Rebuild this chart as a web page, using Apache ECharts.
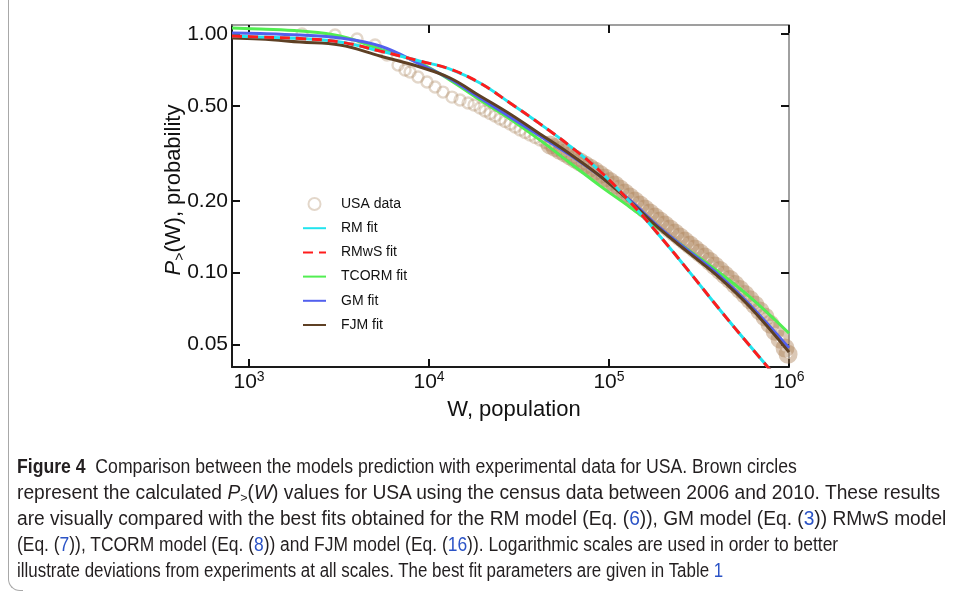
<!DOCTYPE html>
<html>
<head>
<meta charset="utf-8">
<script src="https://cdn.jsdelivr.net/npm/echarts@6/dist/echarts.min.js"></script>
<style>
  html, body { margin: 0; padding: 0; background: #fff; }
  #chart { position: absolute; left: 0; top: 0; width: 955px; height: 596px; }
  .frame { position: absolute; left: 8px; top: -4px; width: 14px; height: 594px;
           border-left: 1.5px solid #a8a8a8; border-bottom: 1.5px solid #a8a8a8;
           border-bottom-left-radius: 12px; }
  .cap { position: absolute; left: 17px; top: 453px; color: #231f20;
         font: 20px 'Liberation Sans', Arial, sans-serif; line-height: 26px; }
  .cap div { white-space: nowrap; width: max-content; transform-origin: 0 50%; }
  .lnk { color: #2b53c6; }
  sub { font-size: 13px; vertical-align: -3px; line-height: 0; }
</style>
</head>
<body>
<div id="chart"></div>
<div class="frame"></div>
<div class="cap">
  <div data-w="780"><b>Figure 4</b>&nbsp; Comparison between the models prediction with experimental data for USA. Brown circles</div>
  <div data-w="923">represent the calculated <i>P</i><sub>&gt;</sub>(<i>W</i>) values for USA using the census data between 2006 and 2010. These results</div>
  <div data-w="929">are visually compared with the best fits obtained for the RM model (Eq. (<span class="lnk">6</span>)), GM model (Eq. (<span class="lnk">3</span>)) RMwS model</div>
  <div data-w="821">(Eq. (<span class="lnk">7</span>)), TCORM model (Eq. (<span class="lnk">8</span>)) and FJM model (Eq. (<span class="lnk">16</span>)). Logarithmic scales are used in order to better</div>
  <div data-w="706">illustrate deviations from experiments at all scales. The best fit parameters are given in Table <span class="lnk">1</span></div>
</div>
<script>
// axis ranges and ticks (log scales, drawn on log10 values)
const xRange = [804, 1e6];
const yRange = [0.0402, 1.091];
const xTicks = [1e3, 1e4, 1e5, 1e6];
const yTicks = [0.05, 0.10, 0.20, 0.50, 1.00];

// USA census data, P>(W)
const usaW = [1970, 3005, 3981, 5012, 5843, 6725, 7356, 7845, 8688, 9747, 10800, 11960, 13420, 14870, 16470, 17780,
  19200, 20470, 21820, 23270, 24810, 26450, 28200, 30060, 32050, 34170, 36430, 38840, 41410, 44150, 47060, 50170,
  53430, 56960, 60730, 64740, 69020, 73580, 78420, 83620, 89130, 95020, 101300, 108000, 115100, 122700, 130800,
  139500, 148700, 158500, 169000, 180200, 192100, 204800, 218300, 232700, 248100, 264500, 281800, 300500, 320300,
  341500, 364100, 388100, 413800, 441100, 470300, 501400, 534500, 569800, 607500, 647600, 690400, 736000, 784700,
  836600, 891900, 950800, 988000];
const usaP = [1.000, 0.990, 0.953, 0.899, 0.817, 0.741, 0.706, 0.693, 0.660, 0.629, 0.600, 0.571, 0.544, 0.529, 0.514, 0.504,
  0.4895, 0.4756, 0.4642, 0.4531, 0.4401, 0.4296, 0.4194, 0.4074, 0.3958, 0.3864, 0.3772, 0.3682, 0.3594, 0.3508, 0.3424, 0.3342,
  0.3247, 0.3170, 0.3079, 0.2991, 0.2906, 0.2823, 0.2742, 0.2664, 0.2576, 0.2490, 0.2407, 0.2327, 0.2239, 0.2154, 0.2073,
  0.1994, 0.1919, 0.1846, 0.1776, 0.1709, 0.1644, 0.1582, 0.1522, 0.1464, 0.1409, 0.1355, 0.1304, 0.1255, 0.1207,
  0.1161, 0.1112, 0.1065, 0.1020, 0.0976, 0.0935, 0.0891, 0.0849, 0.0809, 0.0770, 0.0731, 0.0690, 0.0651, 0.0608,
  0.0568, 0.0526, 0.0483, 0.0455];

// model fits
const fitW = [804, 1150, 1920, 3200, 5340, 8910, 13090, 19200, 28180, 41370, 60730, 89130, 130800, 192000, 281800, 413700, 607300, 1000000];
const rmP    = [0.981, 0.971, 0.957, 0.926, 0.849, 0.770, 0.713, 0.623, 0.514, 0.420, 0.339, 0.266, 0.198, 0.142, 0.100, 0.0697, 0.0492, 0.0316];
const rmwsP  = [0.981, 0.971, 0.957, 0.926, 0.849, 0.770, 0.713, 0.623, 0.514, 0.420, 0.339, 0.266, 0.198, 0.142, 0.100, 0.0697, 0.0492, 0.0316];
const tcormP = [1.060, 1.049, 1.029, 0.981, 0.865, 0.756, 0.641, 0.529, 0.440, 0.359, 0.288, 0.231, 0.188, 0.152, 0.123, 0.0995, 0.0789, 0.0557];
const gmP    = [1.010, 1.005, 0.990, 0.962, 0.891, 0.748, 0.648, 0.539, 0.449, 0.374, 0.311, 0.254, 0.201, 0.154, 0.122, 0.0967, 0.0731, 0.0483];
const fjmP   = [0.962, 0.953, 0.926, 0.899, 0.809, 0.727, 0.654, 0.550, 0.462, 0.381, 0.314, 0.254, 0.199, 0.152, 0.120, 0.0948, 0.0717, 0.0464];

const FONT = "'Liberation Sans', Arial, sans-serif";
const lg = Math.log10;
const pairs = (ws, ps) => ws.map((w, i) => [lg(w), lg(ps[i])]);
// the tail of the data is so dense that the circles merge into a band
const DENSE_FROM = 50000;
const usaPts = pairs(usaW, usaP);
const usaSparse = usaPts.filter(p => p[0] < lg(DENSE_FROM));
const usaDense = usaPts.filter(p => p[0] >= lg(DENSE_FROM) - 0.03);

const chart = echarts.init(document.getElementById('chart'));

function fitSeries(name, ps, color, type) {
    return {
        name: name,
        type: 'line',
        data: pairs(fitW, ps),
        symbol: 'none',
        smooth: 0.4,
        color: color,
        lineStyle: {color: color, width: 3, type: type || 'solid'}
    };
}

function axisX(pos, labels) {
    return {
        type: 'value', position: pos,
        min: lg(xRange[0]), max: lg(xRange[1]),
        axisLine: {onZero: false, lineStyle: labels ? {color: '#1a1a1a', width: 2} : {color: '#808080', width: 1.5}},
        axisTick: {inside: true, length: 8, customValues: xTicks.map(lg), lineStyle: {color: '#111', width: 2}},
        axisLabel: {
            show: labels,
            customValues: xTicks.map(lg),
            formatter: v => '10{sup|' + Math.round(v) + '}',
            fontSize: 21, lineHeight: 24, color: '#111', fontFamily: FONT, margin: 3,
            rich: {sup: {fontSize: 14, lineHeight: 14, verticalAlign: 'top', color: '#111', fontFamily: FONT}}
        },
        splitLine: {show: false}
    };
}

function axisY(pos, labels) {
    return {
        type: 'value', position: pos,
        min: lg(yRange[0]), max: lg(yRange[1]),
        axisLine: {onZero: false, lineStyle: labels ? {color: '#1a1a1a', width: 2} : {color: '#808080', width: 1.5}},
        axisTick: {inside: true, length: 8, customValues: yTicks.map(lg), lineStyle: {color: '#111', width: 2}},
        axisLabel: {
            show: labels,
            customValues: yTicks.map(lg),
            formatter: v => Math.pow(10, v).toFixed(2),
            fontSize: 21, color: '#111', fontFamily: FONT, margin: 4
        },
        splitLine: {show: false}
    };
}

const noSymbol = {opacity: 0};

const option = {
    animation: false,
    textStyle: {fontFamily: FONT},
    grid: {left: 232, right: 166, top: 25, bottom: 229, containLabel: false},
    xAxis: [axisX('bottom', true), axisX('top', false)],
    yAxis: [axisY('left', true), axisY('right', false)],
    legend: {
        orient: 'vertical', left: 297, top: 192,
        itemWidth: 23, itemHeight: 12, itemGap: 10.2,
        textStyle: {fontSize: 14, lineHeight: 14, color: '#111', fontFamily: FONT, padding: [0, 0, 0, 10]},
        data: [
            'USA data',
            {name: 'RM fit', itemStyle: noSymbol},
            {name: 'RMwS fit', itemStyle: noSymbol},
            {name: 'TCORM fit', itemStyle: noSymbol},
            {name: 'GM fit', itemStyle: noSymbol},
            {name: 'FJM fit', itemStyle: noSymbol}
        ]
    },
    graphic: [
        {type: 'text', x: 514, y: 410,
            style: {text: 'W, population', fontSize: 22, fontFamily: FONT, fill: '#111', align: 'center', verticalAlign: 'middle'}},
        {type: 'text', x: 174, y: 190, rotation: Math.PI / 2,
            style: {
                text: '{i|P}{s|>}(W), probability', fontSize: 22, fontFamily: FONT, fill: '#111',
                align: 'center', verticalAlign: 'middle', lineHeight: 26,
                rich: {
                    i: {fontStyle: 'italic', fontSize: 22, fontFamily: FONT, fill: '#111'},
                    s: {fontSize: 14, lineHeight: 14, verticalAlign: 'bottom', fontFamily: FONT, fill: '#111'}
                }
            }}
    ],
    series: [
        {
            name: 'USA data',
            type: 'scatter',
            data: usaSparse,
            symbol: 'circle',
            symbolSize: 11,
            color: 'rgba(165,125,85,0.39)',
            itemStyle: {color: 'rgba(0,0,0,0)', borderColor: 'rgba(165,125,85,0.39)', borderWidth: 2.4}
        },
        {
            name: 'USA data',
            type: 'scatter',
            data: usaDense,
            symbol: 'circle',
            symbolSize: 13,
            itemStyle: {color: 'rgba(0,0,0,0)', borderColor: 'rgba(172,130,88,0.55)', borderWidth: 6}
        },
        fitSeries('TCORM fit', tcormP, '#52ee52'),
        fitSeries('GM fit', gmP, '#5260ee'),
        fitSeries('FJM fit', fjmP, '#5e4024'),
        fitSeries('RM fit', rmP, '#22e4ee'),
        fitSeries('RMwS fit', rmwsP, '#ff1c1c', [10, 6])
    ]
};

chart.setOption(option);

// squeeze caption lines to the widths in the figure
document.querySelectorAll('.cap div').forEach(d => {
    const s = (+d.dataset.w) / d.offsetWidth;
    d.style.transform = 'scaleX(' + s.toFixed(4) + ')';
});
</script>
</body>
</html>
